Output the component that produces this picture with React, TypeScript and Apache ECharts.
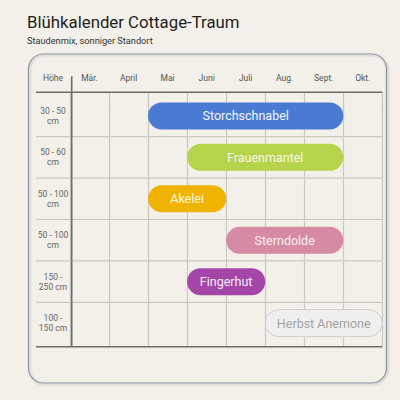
import React, { useEffect, useRef } from "react";
import * as echarts from "echarts";

const months = ["Mär.", "April", "Mai", "Juni", "Juli", "Aug.", "Sept.", "Okt."];
const plants = ["Storchschnabel", "Frauenmantel", "Akelei", "Sterndolde", "Fingerhut", "Herbst Anemone"];
const heights = ["30 - 50\ncm", "50 - 60\ncm", "50 - 100\ncm", "50 - 100\ncm", "150 -\n250 cm", "100 -\n150 cm"];
// index of first and last blooming month (inclusive)
const startMonth = [2, 3, 2, 4, 3, 5];
const endMonth = [6, 6, 3, 6, 4, 7];
const barColors = ["#4a7bd3", "#b6d34c", "#f0b400", "#d78aa4", "#a446a8", "#efefee"];
const textColors = ["#f4f6fb", "#f6f9ea", "#fdf6e3", "#fbf1f4", "#f8eef8", "#a3a3a3"];
const borderColors = ["", "", "", "", "", "#cfcfcf"];

const FONT = "Roboto, 'Noto Sans', sans-serif";
const BG = "#f3f0e9";

export default function App() {
  const ref = useRef<HTMLDivElement>(null);
  useEffect(() => {
    document.body.style.margin = "0";
    const chart = echarts.init(ref.current!, null, { renderer: "svg" });
    const rows = plants.length;
    const barData = plants.map((p, i) => [startMonth[i], endMonth[i] + 1, i, i]);
    const heightData = heights.map((h, i) => [0, i, i]);
    const dividerData = Array.from({ length: rows - 1 }, (_, i) => [i + 0.5]);

    chart.setOption({
      animation: false,
      backgroundColor: BG,
      textStyle: { fontFamily: FONT },
      grid: { left: 70, right: 17.7, top: 92.3, bottom: 53.3, containLabel: false },
      xAxis: [
        {
          type: "category",
          position: "top",
          data: months,
          boundaryGap: true,
          axisLine: { show: false },
          axisTick: { show: true, length: 12, lineStyle: { color: "#cbc8c2", width: 1.2 } },
          axisLabel: { color: "#555", fontSize: 8.5, margin: 10, fontFamily: FONT },
          splitLine: { show: true, lineStyle: { color: "#cbc8c2", width: 1.2 } },
        },
        { type: "value", min: 0, max: months.length, show: false },
      ],
      yAxis: { type: "value", inverse: true, min: -0.57, max: rows - 1 + 0.57, show: false },
      graphic: [
        {
          type: "rect",
          shape: { x: 28.5, y: 54, width: 358, height: 329, r: 15 },
          style: {
            fill: "none",
            stroke: "#8e97a3",
            lineWidth: 1.2,
            shadowBlur: 2,
            shadowOffsetX: 1,
            shadowOffsetY: 1,
            shadowColor: "rgba(0,0,0,0.25)",
          },
          z: 0,
        },
        {
          type: "text",
          x: 27,
          y: 22,
          style: { text: "Blühkalender Cottage-Traum", fill: "#1e1e1e", font: `16.8px ${FONT}`, verticalAlign: "middle" },
        },
        {
          type: "text",
          x: 27,
          y: 40,
          style: { text: "Staudenmix, sonniger Standort", fill: "#333", font: `9.2px ${FONT}`, verticalAlign: "middle" },
        },
        {
          type: "text",
          x: 53,
          y: 77.5,
          style: { text: "Höhe", fill: "#555", font: `8.5px ${FONT}`, align: "center", verticalAlign: "middle" },
        },
      ],
      series: [
        {
          type: "custom",
          name: "dividers",
          xAxisIndex: 1,
          silent: true,
          clip: false,
          data: dividerData,
          renderItem: (params: any, api: any) => {
            const y = api.coord([0, api.value(0)])[1];
            const x0 = api.coord([0, 0])[0] - 34;
            const x1 = api.coord([months.length, 0])[0];
            return {
              type: "line",
              shape: { x1: x0, y1: y, x2: x1, y2: y },
              style: { stroke: "#cbc8c2", lineWidth: 1.2 },
            };
          },
          z: 1,
        },
        {
          type: "custom",
          name: "frame",
          xAxisIndex: 1,
          silent: true,
          clip: false,
          data: [[0]],
          renderItem: (params: any, api: any) => {
            const top = api.coord([0, -0.57])[1];
            const bottom = api.coord([0, rows - 1 + 0.57])[1];
            const xl = api.coord([0, 0])[0];
            const xr = api.coord([months.length, 0])[0];
            const st = { stroke: "#6f6c67", lineWidth: 1.6 };
            return {
              type: "group",
              children: [
                { type: "line", shape: { x1: xl - 34, y1: top, x2: xr, y2: top }, style: st },
                { type: "line", shape: { x1: xl - 34, y1: bottom, x2: xr, y2: bottom }, style: st },
                { type: "line", shape: { x1: xl + 1.7, y1: top - 16, x2: xl + 1.7, y2: bottom }, style: st },
              ],
            };
          },
          z: 2,
        },
        {
          type: "custom",
          name: "heights",
          xAxisIndex: 1,
          silent: true,
          clip: false,
          data: heightData,
          renderItem: (params: any, api: any) => {
            const i = api.value(2);
            const p = api.coord([0, api.value(1)]);
            return {
              type: "text",
              x: p[0] - 17,
              y: p[1],
              style: {
                text: heights[i],
                fill: "#666",
                font: `8.5px ${FONT}`,
                lineHeight: 10,
                align: "center",
                verticalAlign: "middle",
              },
            };
          },
          z: 3,
        },
        {
          type: "custom",
          name: "bars",
          xAxisIndex: 1,
          clip: false,
          data: barData,
          renderItem: (params: any, api: any) => {
            const i = api.value(3);
            const p0 = api.coord([api.value(0), api.value(2)]);
            const p1 = api.coord([api.value(1), api.value(2)]);
            const h = 27;
            return {
              type: "group",
              children: [
                {
                  type: "rect",
                  shape: { x: p0[0], y: p0[1] - h / 2, width: p1[0] - p0[0], height: h, r: h / 2 },
                  style: {
                    fill: barColors[i],
                    stroke: borderColors[i] || null,
                    lineWidth: borderColors[i] ? 1 : 0,
                  },
                },
                {
                  type: "text",
                  x: (p0[0] + p1[0]) / 2,
                  y: p0[1],
                  style: {
                    text: plants[i],
                    fill: textColors[i],
                    font: `12.5px ${FONT}`,
                    align: "center",
                    verticalAlign: "middle",
                  },
                },
              ],
            };
          },
          z: 4,
        },
      ],
    });
    return () => chart.dispose();
  }, []);
  return <div ref={ref} style={{ position: "fixed", left: 0, top: 0, width: 400, height: 400 }} />;
}
